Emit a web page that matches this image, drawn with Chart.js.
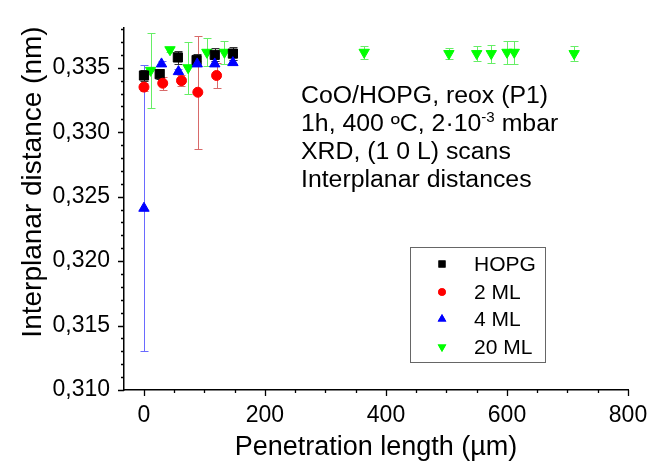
<!DOCTYPE html>
<html>
<head>
<meta charset="utf-8">
<script src="https://cdn.jsdelivr.net/npm/chart.js@4"></script>
<style>
  html, body { margin: 0; padding: 0; background: #fff; }
</style>
</head>
<body>
<canvas id="chart" width="664" height="472"></canvas>
<script>
// values: penetration length (um) / interplanar distance (nm) / error
const xHOPG = [0, 26, 56, 87, 117, 147];
const yHOPG = [0.3344, 0.3345, 0.3358, 0.3356, 0.3360, 0.3361];
const eHOPG = [0.0004, 0.0004, 0.0005, 0.0005, 0.0005, 0.0005];

const x2ML = [0, 31, 62, 89, 120];
const y2ML = [0.3335, 0.3338, 0.3340, 0.3331, 0.3344];
const e2ML = [0.0003, 0.0005, 0.0004, 0.0044, 0.0010];

const x4ML = [0, 29, 57, 88, 117, 147];
const y4ML = [0.3241, 0.3353, 0.3347, 0.3353, 0.3353, 0.3354];
const e4ML = [0.0111, 0.0002, 0.0002, 0.0002, 0.0002, 0.0002];

const x20ML = [11, 43, 73, 104, 133, 364, 504, 550, 574, 600, 612, 711];
const y20ML = [0.3348, 0.3364, 0.3350, 0.3362, 0.3362, 0.3362, 0.3361, 0.3361, 0.3361, 0.3362, 0.3362, 0.3361];
const e20ML = [0.0029, 0.0002, 0.0020, 0.0011, 0.0009, 0.0005, 0.0004, 0.0006, 0.0007, 0.0009, 0.0009, 0.0006];

const legendNames = ["HOPG", "2 ML", "4 ML", "20 ML"];
const noteLines = ["CoO/HOPG, reox (P1)", "1h, 400 ºC, 2·10", "XRD, (1 0 L) scans", "Interplanar distances"];

const FONT = "'Liberation Sans', Arial, sans-serif";

function pts(xs, ys) {
    return xs.map((x, i) => ({ x: x, y: ys[i] }));
}

function mkSet(label, xs, ys, errs, color, errColor, style, radius, rotation) {
    return {
        label: label,
        data: pts(xs, ys),
        err: errs,
        errColor: errColor,
        pointStyle: style,
        pointRadius: radius,
        pointRotation: rotation || 0,
        backgroundColor: color,
        borderColor: color,
        borderWidth: 1,
        showLine: false
    };
}

// drawing order: red, blue, black, green (green ends on top)
const datasets = [
    mkSet("2 ML", x2ML, y2ML, e2ML, "#ff0000", "#d86a6a", "circle", 5),
    mkSet("4 ML", x4ML, y4ML, e4ML, "#0000ff", "#6a6aff", "triangle", 6),
    mkSet("HOPG", xHOPG, yHOPG, eHOPG, "#000000", "#333333", "rect", 6.5),
    mkSet("20 ML", x20ML, y20ML, e20ML, "#00ff00", "#66ee66", "triangle", 6, 180)
];

function isMajorY(v) { return Math.round(v * 1000) % 5 === 0; }
function isMajorX(v) { return Math.round(v) % 200 === 0; }

const extras = {
    id: 'extras',
    beforeDatasetsDraw(chart) {
        const ctx = chart.ctx;
        const ys = chart.scales.y;
        chart.data.datasets.forEach((ds, di) => {
            const meta = chart.getDatasetMeta(di);
            ctx.save();
            ctx.strokeStyle = ds.errColor;
            ctx.lineWidth = 1;
            meta.data.forEach((pt, i) => {
                const v = ds.data[i].y, e = ds.err[i];
                const top = Math.round(ys.getPixelForValue(v + e)) + 0.5;
                const bot = Math.round(ys.getPixelForValue(v - e)) + 0.5;
                const x = Math.round(pt.x) + 0.5;
                ctx.beginPath();
                ctx.moveTo(x, top); ctx.lineTo(x, bot);
                ctx.moveTo(x - 4, top); ctx.lineTo(x + 4, top);
                ctx.moveTo(x - 4, bot); ctx.lineTo(x + 4, bot);
                ctx.stroke();
            });
            ctx.restore();
        });
    },
    afterDraw(chart) {
        const ctx = chart.ctx;
        const area = chart.chartArea;
        const xs = chart.scales.x, ys = chart.scales.y;
        ctx.save();
        ctx.strokeStyle = '#000';
        ctx.lineWidth = 1.3;
        ctx.beginPath();
        xs.ticks.forEach(t => {
            const px = Math.round(xs.getPixelForValue(t.value)) + 0.5;
            const len = isMajorX(t.value) ? 6 : 3;
            ctx.moveTo(px, area.bottom);
            ctx.lineTo(px, area.bottom + len);
        });
        ys.ticks.forEach(t => {
            const py = Math.round(ys.getPixelForValue(t.value)) + 0.5;
            const len = isMajorY(t.value) ? 6 : 3;
            ctx.moveTo(area.left, py);
            ctx.lineTo(area.left - len, py);
        });
        ctx.stroke();

        // axis titles
        ctx.fillStyle = '#000';
        ctx.textAlign = 'center';
        ctx.textBaseline = 'middle';
        ctx.font = '28px ' + FONT;
        ctx.save();
        ctx.translate(33, 182);
        ctx.rotate(-Math.PI / 2);
        ctx.fillText("Interplanar distance (nm)", 0, 0);
        ctx.restore();
        ctx.font = '27px ' + FONT;
        ctx.fillText("Penetration length (µm)", (area.left + area.right) / 2, 448);

        // annotation, slightly widened like the original
        ctx.textAlign = 'left';
        ctx.textBaseline = 'alphabetic';
        ctx.save();
        ctx.translate(301, 0);
        ctx.scale(1.08, 1);
        ctx.font = '23px ' + FONT;
        const base = [103, 131, 159, 187];
        ctx.fillText(noteLines[0], 0, base[0]);
        ctx.fillText(noteLines[1], 0, base[1]);
        const w = ctx.measureText(noteLines[1]).width;
        ctx.font = '14px ' + FONT;
        ctx.fillText("-3", w, base[1] - 9);
        const w2 = ctx.measureText("-3").width;
        ctx.font = '23px ' + FONT;
        ctx.fillText(" mbar", w + w2, base[1]);
        ctx.fillText(noteLines[2], 0, base[2]);
        ctx.fillText(noteLines[3], 0, base[3]);
        ctx.restore();

        // legend box
        ctx.strokeStyle = '#666';
        ctx.lineWidth = 1;
        ctx.strokeRect(410.5, 247.5, 135, 115);
        const order = [2, 0, 1, 3];
        const ly = [264, 292, 319, 347];
        ctx.font = '21px ' + FONT;
        ctx.textBaseline = 'middle';
        order.forEach((di, k) => {
            const ds = chart.data.datasets[di];
            ctx.fillStyle = ds.backgroundColor;
            Chart.helpers.drawPoint(ctx, {
                pointStyle: ds.pointStyle,
                rotation: ds.pointRotation,
                radius: ds.pointStyle === 'circle' ? 3.8 : 5,
                borderWidth: 0
            }, 442, ly[k]);
            ctx.fill();
            ctx.fillStyle = '#000';
            ctx.fillText(legendNames[k], 474, ly[k] + 1);
        });
        ctx.restore();
    }
};

new Chart(document.getElementById('chart').getContext('2d'), {
    type: 'scatter',
    data: { datasets: datasets },
    options: {
        responsive: false,
        animation: false,
        devicePixelRatio: 1,
        layout: { padding: { top: 8, right: 36, left: 0, bottom: 0 } },
        plugins: {
            legend: { display: false },
            tooltip: { enabled: false }
        },
        scales: {
            x: {
                type: 'linear',
                min: -33,
                max: 800,
                afterFit: s => { s.height = 82; },
                grid: { display: false, drawTicks: false },
                border: { display: true, color: '#000', width: 1.5 },
                ticks: {
                    stepSize: 50,
                    includeBounds: false,
                    autoSkip: false,
                    maxRotation: 0,
                    padding: 12,
                    color: '#000',
                    font: { family: FONT, size: 23 },
                    callback: v => isMajorX(v) ? String(v) : ''
                }
            },
            y: {
                type: 'linear',
                min: 0.310,
                max: 0.3381,
                afterFit: s => { s.width = 124; },
                grid: { display: false, drawTicks: false },
                border: { display: true, color: '#000', width: 1.5 },
                ticks: {
                    stepSize: 0.001,
                    includeBounds: false,
                    autoSkip: false,
                    padding: 14,
                    color: '#000',
                    font: { family: FONT, size: 23 },
                    callback: v => isMajorY(v) ? v.toFixed(3).replace('.', ',') : ''
                }
            }
        }
    },
    plugins: [extras]
});
</script>
</body>
</html>
